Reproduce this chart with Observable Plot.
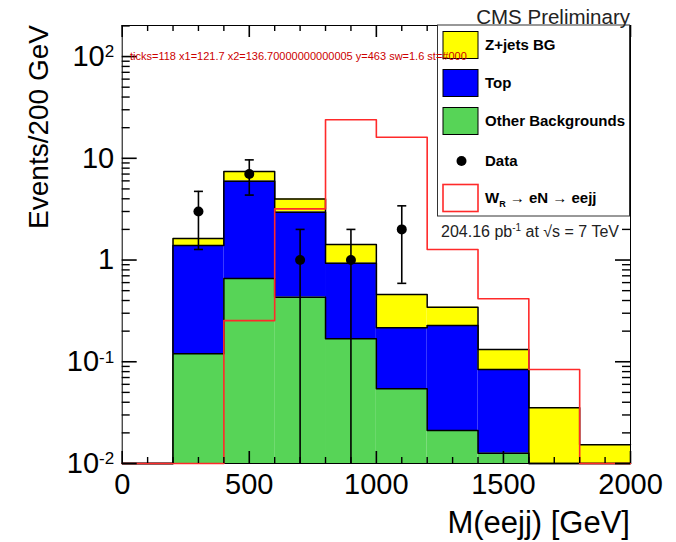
<!DOCTYPE html>
<html>
<head>
<meta charset="utf-8">
<script src="https://cdn.jsdelivr.net/npm/d3@7"></script>
<script src="https://cdn.jsdelivr.net/npm/@observablehq/plot@0.6"></script>
<style>
  html, body { margin: 0; padding: 0; background: #fff; }
  #chart svg { display: block; }
</style>
</head>
<body>
<div id="chart"></div>
<script>
// ---------- data ----------
const binEdges = [0, 200, 400, 600, 800, 1000, 1200, 1400, 1600, 1800, 2000];
const otherBackgrounds = [0, 0.120, 0.658, 0.431, 0.168, 0.0542, 0.0211, 0.0126, 0, 0];
const topBackground    = [0, 1.27, 5.29, 2.52, 0.76, 0.162, 0.206, 0.0714, 0, 0];
const zjetsBackground  = [0, 0.24, 1.46, 1.04, 0.49, 0.242, 0.117, 0.048, 0.0353, 0.0153];
const signalWR         = [0, 0, 0.254, 3.18, 23.9, 16.1, 1.27, 0.416, 0.084, 0];
const dataMass    = [300, 500, 700, 900, 1100];
const dataEvents  = [3, 7, 1, 1, 2];
const dataErrLow  = [1.27, 4.35, 0, 0, 0.59];
const dataErrHigh = [4.73, 9.65, 2, 2, 3.41];
const xTickValues = [0, 500, 1000, 1500, 2000];
const yTickValues = [0.01, 0.1, 1, 10, 100];
const yTickLabels = ["10^-2", "10^-1", "1", "10", "10^2"];
const seriesNames  = ["Z+jets BG", "Top", "Other Backgrounds"];
const seriesColors = ["#ffff00", "#0000ff", "#57d457"];
const signalColor = "#ff2a2a";

// ---------- layout ----------
const W = 676, H = 542;
const mL = 121.7, mR = 46, mT = 25, mB = 79;
const innerW = W - mL - mR, innerH = H - mT - mB;
const yMax = 202;
const font = '"Liberation Sans", Arial, Helvetica, sans-serif';

// ---------- stacking (bottom -> top: other, top, zjets) ----------
const layersBottomUp = [
  {name: seriesNames[2], values: otherBackgrounds, color: seriesColors[2]},
  {name: seriesNames[1], values: topBackground,    color: seriesColors[1]},
  {name: seriesNames[0], values: zjetsBackground,  color: seriesColors[0]}
];
let below = binEdges.slice(0, -1).map(() => 0);
for (const L of layersBottomUp) {
  L.y1 = below.slice();
  L.y2 = below.map((b, i) => b + L.values[i]);
  below = L.y2;
}
const nBins = binEdges.length - 1;
function fillRows(L) {
  const rows = [];
  for (let i = 0; i < nBins; i++) {
    if (L.values[i] > 0) rows.push({x1: binEdges[i], x2: binEdges[i + 1], y1: L.y1[i], y2: L.y2[i]});
  }
  return rows;
}
function stepPoints(vals) {
  return binEdges.map((e, i) => ({x: e, y: vals[Math.min(i, nBins - 1)]}));
}
const dataRows = dataMass.map((m, i) => ({x: m, n: dataEvents[i], lo: dataErrLow[i], hi: dataErrHigh[i]}));

// minor ticks
const yMinor = [];
for (let p = -2; p <= 2; p++) for (let k = 2; k <= 9; k++) { const v = k * Math.pow(10, p); if (v <= yMax) yMinor.push(v); }
const xMinor = d3.range(100, 2000, 100).filter(v => v % 500 !== 0);

const capSymbol = {draw(ctx) { ctx.moveTo(-4.5, 0); ctx.lineTo(4.5, 0); }};

const marks = [];
for (const L of layersBottomUp.slice().reverse()) {
  marks.push(Plot.rect(fillRows(L), {x1: "x1", x2: "x2", y1: "y1", y2: "y2", fill: L.color}));
  marks.push(Plot.line(stepPoints(L.y2), {x: "x", y: "y", curve: "step-after", stroke: "#000", strokeWidth: 1.5}));
}
marks.push(Plot.frame({stroke: "#000", strokeWidth: 1}));
marks.push(Plot.line(stepPoints(signalWR), {x: "x", y: "y", curve: "step-after", stroke: signalColor, strokeWidth: 1.6}));
marks.push(Plot.ruleX(dataRows, {x: "x", y1: "lo", y2: "hi", stroke: "#000", strokeWidth: 1.6}));
marks.push(Plot.dot(dataRows.filter(d => d.lo > 0), {x: "x", y: "lo", symbol: capSymbol, stroke: "#000", strokeWidth: 1.6, fill: "none"}));
marks.push(Plot.dot(dataRows, {x: "x", y: "hi", symbol: capSymbol, stroke: "#000", strokeWidth: 1.6, fill: "none"}));
marks.push(Plot.dot(dataRows, {x: "x", y: "n", r: 5, fill: "#000", stroke: "none"}));
marks.push(Plot.axisX({ticks: xTickValues, tickSize: 0, tickPadding: 10, tickFormat: d => String(d), fontSize: 29, label: null}));
marks.push(Plot.axisY({ticks: yTickValues, tickSize: 0, tickPadding: 8, tickFormat: d => yTickLabels[yTickValues.indexOf(d)], fontSize: 29, label: null}));
// inward ROOT-style ticks on all four sides (drawn last, on top of everything)
marks.push(Plot.tickY(yTickValues, {y: d => d, insetRight: innerW - 15, stroke: "#000", strokeWidth: 1.6}));
marks.push(Plot.tickY(yMinor,      {y: d => d, insetRight: innerW - 8,  stroke: "#000", strokeWidth: 1.4}));
marks.push(Plot.tickY(yTickValues, {y: d => d, insetLeft: innerW - 15,  stroke: "#000", strokeWidth: 1.6}));
marks.push(Plot.tickY(yMinor,      {y: d => d, insetLeft: innerW - 8,   stroke: "#000", strokeWidth: 1.4}));
marks.push(Plot.tickX(xTickValues, {x: d => d, insetTop: innerH - 12,   stroke: "#000", strokeWidth: 1.6}));
marks.push(Plot.tickX(xMinor,      {x: d => d, insetTop: innerH - 6,    stroke: "#000", strokeWidth: 1.4}));
marks.push(Plot.tickX(xTickValues, {x: d => d, insetBottom: innerH - 12, stroke: "#000", strokeWidth: 1.6}));
marks.push(Plot.tickX(xMinor,      {x: d => d, insetBottom: innerH - 6,  stroke: "#000", strokeWidth: 1.4}));

const plot = Plot.plot({
  width: W, height: H,
  marginLeft: mL, marginRight: mR, marginTop: mT, marginBottom: mB,
  style: {fontFamily: font, background: "#fff", color: "#000", overflow: "visible"},
  x: {domain: [0, 2000]},
  y: {type: "log", domain: [0.01, yMax], clamp: true},
  marks
});
document.getElementById("chart").appendChild(plot);

const svg = d3.select(plot);

// superscripts on the log axis labels
svg.selectAll('g[aria-label="y-axis tick label"] text').each(function () {
  const t = this.textContent;
  if (t.includes("^")) {
    const [base, exp] = t.split("^");
    const s = d3.select(this);
    s.text(null);
    s.append("tspan").text(base);
    s.append("tspan").attr("font-size", 17).attr("dy", -8.5).text(exp);
  }
});
svg.selectAll('g[aria-label="x-axis tick label"] text, g[aria-label="y-axis tick label"] text').attr("fill", "#000");

const deco = svg.append("g").attr("font-family", font).attr("text-anchor", "start");
deco.append("text").attr("transform", "translate(48,25) rotate(-90)").attr("text-anchor", "end")
  .attr("font-size", 28).attr("fill", "#000").text("Events/200 GeV");
deco.append("text").attr("x", 630).attr("y", 533).attr("text-anchor", "end")
  .attr("font-size", 31).attr("fill", "#000").text("M(eejj) [GeV]");

// legend
const lg = deco.append("g").attr("text-anchor", "start");
lg.append("rect").attr("x", 437.5).attr("y", 25).attr("width", 192).attr("height", 191)
  .attr("fill", "#fff").attr("stroke", "#333").attr("stroke-width", 1);
const entryY = [45, 83, 121, 161, 198];
seriesNames.forEach((name, i) => {
  lg.append("rect").attr("x", 443).attr("y", entryY[i] - 13.5).attr("width", 35).attr("height", 27)
    .attr("fill", seriesColors[i]).attr("stroke", "#000").attr("stroke-width", 1);
  lg.append("text").attr("x", 485).attr("y", entryY[i]).attr("dy", "0.36em")
    .attr("font-size", 15).attr("font-weight", "bold").attr("fill", "#000").text(name);
});
lg.append("circle").attr("cx", 461.5).attr("cy", entryY[3]).attr("r", 5).attr("fill", "#000");
lg.append("text").attr("x", 485).attr("y", entryY[3]).attr("dy", "0.36em")
  .attr("font-size", 15).attr("font-weight", "bold").attr("fill", "#000").text("Data");
lg.append("rect").attr("x", 443).attr("y", entryY[4] - 13.5).attr("width", 35).attr("height", 27)
  .attr("fill", "#fff").attr("stroke", signalColor).attr("stroke-width", 1.6);
const wr = lg.append("text").attr("x", 485).attr("y", entryY[4] + 5.4)
  .attr("font-size", 15).attr("font-weight", "bold").attr("fill", "#000");
wr.append("tspan").text("W");
wr.append("tspan").attr("font-size", 9).attr("dy", 4).text("R");
wr.append("tspan").attr("dy", -4).text(" \u2192 eN \u2192 eejj");

// lumi text
const lumi = deco.append("text").attr("x", 441).attr("y", 236.5).attr("font-size", 16).attr("fill", "#222");
lumi.append("tspan").text("204.16 pb");
lumi.append("tspan").attr("font-size", 10).attr("dy", -6).text("-1");
lumi.append("tspan").attr("dy", 6).text(" at \u221As = 7 TeV");

// CMS Preliminary
deco.append("text").attr("x", 630).attr("y", 24).attr("text-anchor", "end")
  .attr("font-size", 20.5).attr("fill", "#222").text("CMS Preliminary");

// temporary diagnostic
const tl = svg.selectAll('g[aria-label="tick"] line');
const f = tl.node();
svg.append("text").attr("x", 130).attr("y", 60).attr("font-size", 11).attr("text-anchor", "start").attr("fill", "#c00")
  .text("ticks=" + tl.size() + (f ? " x1=" + f.getAttribute("x1") + " x2=" + f.getAttribute("x2") + " y=" + f.getAttribute("y1") + " sw=" + f.parentNode.getAttribute("stroke-width") + " st=" + f.parentNode.getAttribute("stroke") : ""));
</script>
</body>
</html>
